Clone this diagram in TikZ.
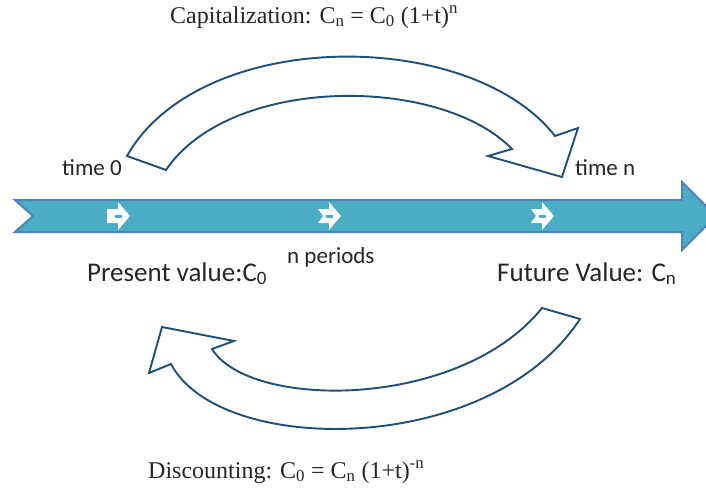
\documentclass[tikz,border=0pt]{standalone}
\usepackage{fontspec}
\setmainfont{Liberation Serif}
\newfontfamily\labelfont{Carlito}
\usetikzlibrary{positioning}
\definecolor{lineblue}{HTML}{1F4E79}
\definecolor{bandfill}{HTML}{4BACC6}
\definecolor{bandedge}{HTML}{4F81BD}

\begin{document}
\begin{tikzpicture}[x=1pt, y=-1pt,
    curved/.style={draw=lineblue, line width=1.9pt, fill=white, line join=miter},
    smalllbl/.style={font=\labelfont\fontsize{23}{27}\selectfont, text=black!85, inner sep=0pt},
    biglbl/.style={font=\labelfont\fontsize{27}{32}\selectfont, text=black!85, inner sep=0pt},
    formula/.style={font=\fontsize{24}{29}\selectfont, text=black!85, inner sep=0pt}]
    \clip (0,0) rectangle (706,490);

    % Time line
    \draw[fill=bandfill, draw=bandedge, line width=2pt, line join=miter]
        (15,200) -- (682,200) -- (682,182) -- (716,216) -- (682,250) -- (682,232)
        -- (15,232) -- (33,216) -- cycle;

    % Small arrows on the time line
    \foreach \px/\nx in {118/-11, 329/-6, 542/-6} {
        \fill[white, shift={(\px,216)}] (-11,-7) -- (0,-7) -- (0,-14) -- (12,0) -- (0,14)
            -- (0,7) -- (-11,7) -- (\nx,0) -- cycle;
        \fill[bandfill, shift={(\px,216)}] (-3,-1.5) rectangle (4,1.5);
    }

    % Capitalization arrow
    \draw[curved] (127,156) .. controls (200,27) and (470,27) .. (555,136)
        -- (578,128) -- (562,177) -- (488,156) -- (512,149)
        .. controls (440,75) and (230,75) .. (166,170) -- cycle;

    % Discounting arrow
    \draw[curved] (542,308) .. controls (460,410) and (250,410) .. (212,349)
        -- (234,341) -- (162,327) -- (149,373) -- (171,364)
        .. controls (220,457) and (490,457) .. (580,319) -- cycle;

    % Labels
    \node[formula, anchor=base west] (capital) at (170,23) {Capitalization: C\textsubscript{n} = C\textsubscript{0} (1+t)\textsuperscript{n}};
    \node[formula, anchor=base west] (discount) at (148,478) {Discounting: C\textsubscript{0} = C\textsubscript{n} (1+t)\textsuperscript{-n}};
    \node[smalllbl, anchor=base west] (time0) at (62,175) {time 0};
    \node[smalllbl, anchor=base west] (timen) at (575,175) {time n};
    \node[smalllbl, anchor=base west] (periods) at (287,263) {n periods};
    \node[biglbl, anchor=base west] (present) at (87,281) {Present value:C\textsubscript{0}};
    \node[biglbl, anchor=base west] (future) at (497,281) {Future Value: C\textsubscript{n}};
\end{tikzpicture}
\end{document}
